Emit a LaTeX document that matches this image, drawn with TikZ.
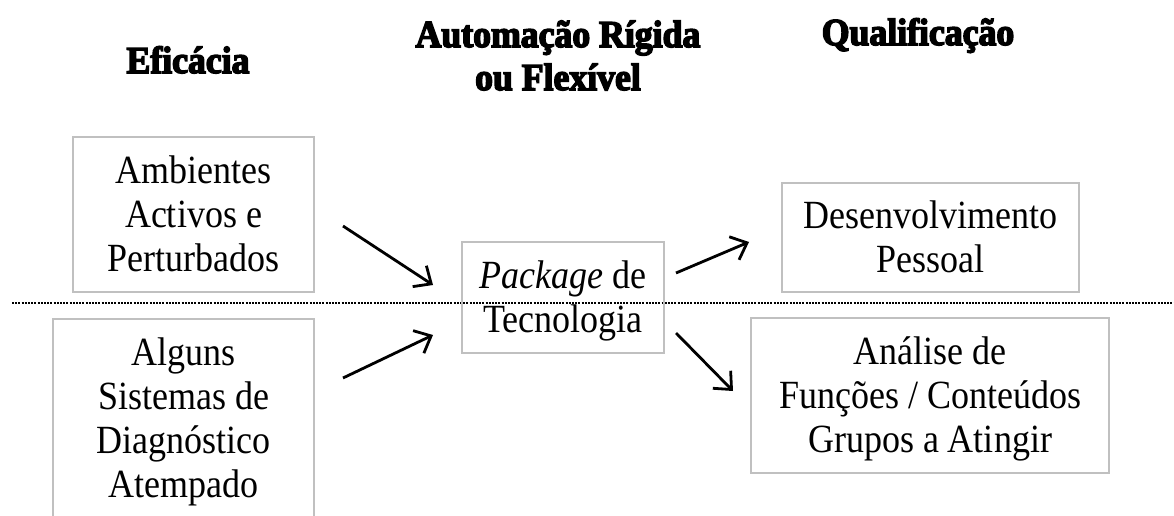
\documentclass[tikz,border=0pt]{standalone}
\usepackage{fontspec}
\setmainfont[FakeStretch=0.9]{Liberation Serif}
\newfontfamily\headfont[FakeBold=4,FakeStretch=0.94]{Liberation Serif Bold}
\usetikzlibrary{arrows.meta}
\definecolor{boxgray}{RGB}{192,192,192}
\tikzset{
  box/.style={draw=boxgray, line width=2pt, inner sep=0pt, align=center,
    font=\fontsize{40}{44}\selectfont, text depth=0pt},
  head/.style={anchor=base, align=center, font=\headfont\fontsize{38}{43}\selectfont, inner sep=0pt},
  conn/.style={line width=2.8pt, -{Straight Barb[length=14pt,width=25pt,line width=2.8pt]}},
  sep/.style={line width=2.6pt, dash pattern=on 2pt off 1.2pt}
}
\begin{document}
\begin{tikzpicture}[x=1pt,y=-1pt]
\useasboundingbox (0,0) rectangle (1174,516);
% headings
\node[head] (h1) at (188,73) {Eficácia};
\node[head] (h2) at (558,90) {Automação Rígida\\ou Flexível};
\node[head] (h3) at (918,45) {Qualificação};
% dotted separator
\coordinate (s1) at (12,303);
\coordinate (s2) at (1174,303);
\draw[sep] (s1) -- (s2);
% boxes
\node[box, minimum width=241pt, minimum height=155pt, text height=114.5pt] (A) at (193.5,214.5) {Ambientes\\Activos e\\Perturbados};
\node[box, minimum width=261pt, minimum height=198pt, text height=158.5pt] (B) at (183.5,418) {Alguns\\Sistemas de\\Diagnóstico\\Atempado};
\node[box, minimum width=202pt, minimum height=111pt, text height=70.5pt] (C) at (563,297.5) {\textit{Package} de\\Tecnologia};
\node[box, minimum width=297pt, minimum height=109pt, text height=70.5pt] (D) at (930.5,237.5) {Desenvolvimento\\Pessoal};
\node[box, minimum width=358pt, minimum height=155pt, text height=114.5pt] (E) at (930,395.5) {Análise de\\Funções / Conteúdos\\Grupos a Atingir};
% arrow ends
\coordinate (a1s) at (343,226); \coordinate (a1e) at (433,285);
\coordinate (a2s) at (343,378); \coordinate (a2e) at (433,335);
\coordinate (a3s) at (676,273); \coordinate (a3e) at (749,242);
\coordinate (a4s) at (676,333); \coordinate (a4e) at (733,391);
\draw[conn] (a1s) -- (a1e);
\draw[conn] (a2s) -- (a2e);
\draw[conn] (a3s) -- (a3e);
\draw[conn] (a4s) -- (a4e);
\end{tikzpicture}
\end{document}
